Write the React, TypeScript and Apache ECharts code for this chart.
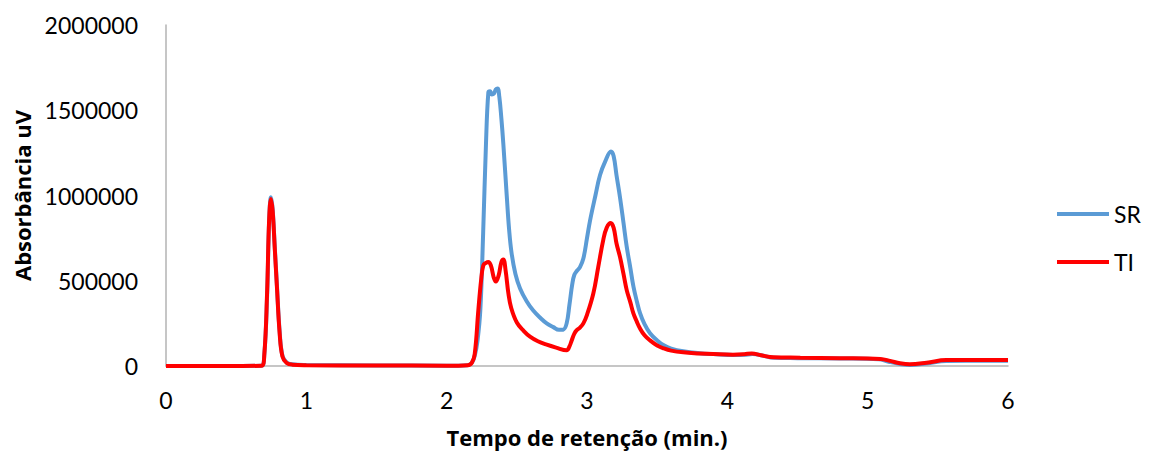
import React, { useEffect, useRef } from "react";
import * as echarts from "echarts";

const xTicks = [0, 1, 2, 3, 4, 5, 6];
const yTicks = [0, 500000, 1000000, 1500000, 2000000];

const srX = [0, 0.5, 0.68, 0.7, 0.72, 0.735, 0.748, 0.76, 0.775, 0.79, 0.81, 0.83, 0.86, 0.9, 1.0, 1.5, 2.0, 2.15, 2.18, 2.2, 2.22, 2.24, 2.26, 2.28, 2.297, 2.309, 2.322, 2.337, 2.35, 2.363, 2.375, 2.39, 2.404, 2.428, 2.445, 2.463, 2.49, 2.523, 2.57, 2.617, 2.67, 2.713, 2.76, 2.8, 2.83, 2.855, 2.875, 2.895, 2.91, 2.93, 2.95, 2.974, 3.0, 3.021, 3.06, 3.093, 3.13, 3.171, 3.19, 3.21, 3.235, 3.26, 3.283, 3.31, 3.331, 3.355, 3.378, 3.41, 3.449, 3.5, 3.544, 3.6, 3.686, 3.8, 3.9, 4.05, 4.12, 4.18, 4.25, 4.33, 4.5, 4.8, 5.08, 5.15, 5.23, 5.3, 5.42, 5.56, 6.0];
const srY = [0, 0, 2000, 60000, 400000, 850000, 990000, 920000, 700000, 480000, 200000, 60000, 20000, 10000, 6000, 3000, 2000, 5000, 20000, 60000, 150000, 330000, 780000, 1300000, 1605000, 1612000, 1592000, 1598000, 1622000, 1628000, 1580000, 1450000, 1300000, 1000000, 800000, 660000, 540000, 455000, 380000, 325000, 280000, 250000, 228000, 212000, 213000, 250000, 360000, 480000, 535000, 560000, 580000, 630000, 750000, 850000, 1000000, 1120000, 1200000, 1258000, 1230000, 1120000, 990000, 840000, 700000, 570000, 465000, 380000, 310000, 245000, 192000, 150000, 123000, 102000, 86000, 75000, 70000, 65000, 66000, 70000, 62000, 48000, 46000, 44000, 39000, 25000, 12000, 6000, 15000, 30000, 31000];

const tiX = [0, 0.5, 0.68, 0.7, 0.72, 0.735, 0.748, 0.76, 0.775, 0.79, 0.81, 0.83, 0.86, 0.9, 1.0, 1.5, 2.0, 2.15, 2.18, 2.2, 2.226, 2.245, 2.261, 2.28, 2.297, 2.315, 2.335, 2.35, 2.37, 2.39, 2.404, 2.42, 2.44, 2.46, 2.5, 2.55, 2.594, 2.65, 2.713, 2.78, 2.855, 2.875, 2.891, 2.91, 2.927, 2.95, 2.974, 3.0, 3.045, 3.08, 3.116, 3.14, 3.169, 3.19, 3.21, 3.235, 3.26, 3.283, 3.31, 3.33, 3.355, 3.378, 3.41, 3.449, 3.5, 3.544, 3.6, 3.686, 3.8, 3.9, 4.04, 4.12, 4.174, 4.24, 4.33, 4.52, 4.8, 5.09, 5.16, 5.23, 5.3, 5.42, 5.56, 6.0];
const tiY = [0, 0, 2000, 60000, 420000, 860000, 980000, 910000, 690000, 470000, 190000, 55000, 18000, 8000, 5000, 3000, 2000, 5000, 20000, 70000, 330000, 500000, 590000, 605000, 610000, 590000, 520000, 495000, 530000, 610000, 625000, 560000, 425000, 340000, 255000, 205000, 172000, 145000, 125000, 108000, 92000, 115000, 150000, 190000, 210000, 225000, 250000, 300000, 425000, 580000, 740000, 810000, 838000, 810000, 720000, 640000, 540000, 445000, 370000, 310000, 260000, 220000, 180000, 150000, 120000, 104000, 90000, 80000, 74000, 70000, 66000, 69000, 74000, 63000, 51000, 49000, 46000, 41000, 30000, 16000, 10000, 19000, 35000, 35000];

const seriesNames = ["SR", "TI"];
const colors = ["#5b9bd5", "#ff0000"];

export default function App() {
  const ref = useRef<HTMLDivElement>(null);
  useEffect(() => {
    document.body.style.margin = "0";
    const chart = echarts.init(ref.current!, null, { renderer: "svg" });
    const font = "Lato, 'Open Sans', sans-serif";
    const boldFont = "'Open Sans', Lato, sans-serif";
    chart.setOption({
      animation: false,
      grid: { left: 166, right: 141, top: 25, bottom: 87, containLabel: false, outerBoundsMode: "none" },
      legend: {
        orient: "vertical",
        left: 1052,
        top: 196,
        itemWidth: 52,
        itemHeight: 4,
        itemGap: 22,
        icon: "rect",
        data: seriesNames,
        textStyle: { fontFamily: font, fontSize: 23, color: "#000", lineHeight: 26 },
      },
      xAxis: {
        type: "value",
        min: xTicks[0],
        max: xTicks[xTicks.length - 1],
        interval: 1,
        name: "Tempo de retenção (min.)",
        nameLocation: "middle",
        nameGap: 60,
        nameTextStyle: { fontFamily: boldFont, fontSize: 22, fontWeight: "bold", color: "#000" },
        axisLine: { lineStyle: { color: "#b3b3b3", width: 1.5 } },
        axisTick: { show: false },
        splitLine: { show: false },
        axisLabel: { fontFamily: font, fontSize: 23, color: "#000", margin: 22, formatter: (v: number) => String(v) },
      },
      yAxis: {
        type: "value",
        min: yTicks[0],
        max: yTicks[yTicks.length - 1],
        interval: 500000,
        name: "Absorbância uV",
        nameLocation: "middle",
        nameGap: 133,
        nameRotate: 90,
        nameTextStyle: { fontFamily: boldFont, fontSize: 22, fontWeight: "bold", color: "#000" },
        axisLine: { show: true, lineStyle: { color: "#b3b3b3", width: 1.5 } },
        axisTick: { show: false },
        splitLine: { show: false },
        axisLabel: { fontFamily: font, fontSize: 23, color: "#000", margin: 28, formatter: (v: number) => String(v) },
      },
      series: [
        {
          name: seriesNames[0],
          type: "line",
          data: srX.map((x, i) => [x, srY[i]]),
          smooth: 0.4,
          showSymbol: false,
          lineStyle: { color: colors[0], width: 4 },
          itemStyle: { color: colors[0] },
        },
        {
          name: seriesNames[1],
          type: "line",
          data: tiX.map((x, i) => [x, tiY[i]]),
          smooth: 0.4,
          showSymbol: false,
          lineStyle: { color: colors[1], width: 4 },
          itemStyle: { color: colors[1] },
        },
      ],
    });
    return () => chart.dispose();
  }, []);
  return <div ref={ref} style={{ width: 1149, height: 453 }} />;
}
